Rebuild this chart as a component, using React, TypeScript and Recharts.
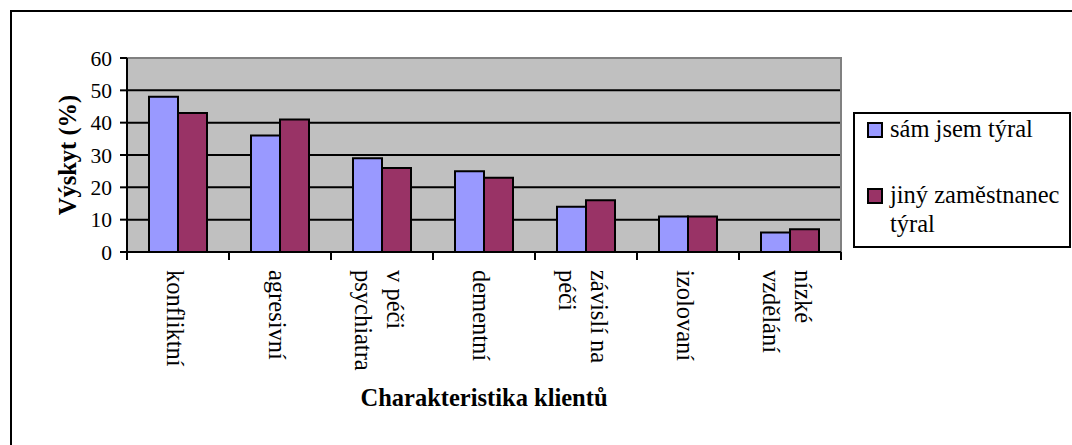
import { Bar, BarChart, CartesianGrid, Legend, ReferenceArea, XAxis, YAxis } from "recharts"

const serif = "'Liberation Serif', Tinos, 'Times New Roman', Times, 'DejaVu Serif', serif"

// category labels, "\n" marks the line breaks of the rotated labels
const categories = [
  "konfliktní",
  "agresivní",
  "v péči\npsychiatra",
  "dementní",
  "závislí na\npéči",
  "izolovaní",
  "nízké\nvzdělání",
]
const samJsemTyral = [48, 36, 29, 25, 14, 11, 6]
const jinyZamestnanecTyral = [43, 41, 26, 23, 16, 11, 7]
const yTicks = [0, 10, 20, 30, 40, 50, 60]

const seriesNames = ["sám jsem týral", "jiný zaměstnanec týral"]
const seriesColors = ["#9999FF", "#993366"]

const data = categories.map((name, i) => ({
  name,
  sam: samJsemTyral[i],
  jiny: jinyZamestnanecTyral[i],
}))

const PLOT_WIDTH = 714
const HALF_BAND = PLOT_WIDTH / categories.length / 2

function CategoryTick(props: any) {
  const { x, y, payload, index } = props
  const lines = String(payload.value).split("\n")
  const left = x - HALF_BAND
  const right = x + HALF_BAND
  return (
    <g>
      <line x1={left} x2={left} y1={y} y2={y + 8} stroke="#000" strokeWidth={2} />
      {index === categories.length - 1 && (
        <line x1={right} x2={right} y1={y} y2={y + 8} stroke="#000" strokeWidth={2} />
      )}
      <g transform={`translate(${x - 3},${y + 18}) rotate(90)`}>
        {lines.map((line, i) => (
          <text
            key={i}
            x={0}
            y={(i - (lines.length - 1) / 2) * 32}
            textAnchor="start"
            dominantBaseline="central"
            style={{ fontSize: 24.5, fontFamily: serif }}
            fill="#000"
          >
            {line}
          </text>
        ))}
      </g>
    </g>
  )
}

function YTitle(props: any) {
  const { viewBox } = props
  const cx = viewBox.x + 67
  const cy = viewBox.y + viewBox.height / 2
  return (
    <text
      x={cx}
      y={cy}
      transform={`rotate(-90, ${cx}, ${cy})`}
      textAnchor="middle"
      dominantBaseline="central"
      style={{ fontSize: 24.5, fontWeight: "bold", fontFamily: serif }}
      fill="#000"
    >
      Výskyt (%)
    </text>
  )
}

function XTitle(props: any) {
  const { viewBox } = props
  return (
    <text
      x={viewBox.x + viewBox.width / 2}
      y={viewBox.y + 154}
      textAnchor="middle"
      style={{ fontSize: 24.5, fontWeight: "bold", fontFamily: serif }}
      fill="#000"
    >
      Charakteristika klientů
    </text>
  )
}

function LegendBox() {
  return (
    <div
      style={{
        width: 218,
        height: 136,
        boxSizing: "border-box",
        border: "2px solid #000",
        background: "#fff",
        fontFamily: serif,
        fontSize: 24.5,
        color: "#000",
      }}
    >
      {seriesNames.map((name, i) => (
        <div key={name} style={{ display: "flex", alignItems: "flex-start", marginTop: i === 0 ? 0 : 37 }}>
          <span
            style={{
              width: 16,
              height: 16,
              boxSizing: "border-box",
              border: "2px solid #000",
              background: seriesColors[i],
              marginTop: 8,
              marginLeft: 12,
              flexShrink: 0,
            }}
          />
          <span style={{ marginLeft: 7, lineHeight: "29px", width: 172 }}>{name}</span>
        </div>
      ))}
    </div>
  )
}

export default function App() {
  return (
    <div
      style={{
        position: "fixed",
        left: 0,
        top: 0,
        width: 1072,
        height: 445,
        overflow: "hidden",
        background: "#fff",
        fontFamily: serif,
      }}
    >
      <div
        style={{
          position: "absolute",
          left: 10,
          top: 10,
          width: 1080,
          height: 460,
          borderTop: "2px solid #000",
          borderLeft: "2px solid #000",
        }}
      />
      <div style={{ position: "absolute", left: 0, top: 0 }}>
        <BarChart
          width={1072}
          height={445}
          data={data}
          margin={{ top: 58, right: 231, bottom: 0, left: 0 }}
          barCategoryGap={22}
          barGap={0}
          style={{ fontFamily: serif }}
        >
          <CartesianGrid vertical={false} fill="#C0C0C0" stroke="#000" strokeWidth={2} />
          <ReferenceArea y1={0} y2={60} fill="none" stroke="#808080" strokeWidth={2} />
          <XAxis
            dataKey="name"
            height={193}
            axisLine={{ stroke: "#000", strokeWidth: 2 }}
            tickLine={false}
            tickSize={0}
            tickMargin={0}
            interval={0}
            tick={<CategoryTick />}
            label={<XTitle />}
          />
          <YAxis
            width={127}
            domain={[0, 60]}
            ticks={yTicks}
            interval={0}
            axisLine={{ stroke: "#000", strokeWidth: 2 }}
            tickLine={{ stroke: "#000", strokeWidth: 2 }}
            tickSize={7}
            tickMargin={8}
            tick={{ fill: "#000", fontSize: 21.5, style: { fontFamily: serif } }}
            label={<YTitle />}
          />
          <Legend
            layout="vertical"
            align="center"
            verticalAlign="middle"
            wrapperStyle={{ left: 853, top: 112, width: 218, height: 136 }}
            content={<LegendBox />}
          />
          <Bar
            dataKey="sam"
            name={seriesNames[0]}
            fill={seriesColors[0]}
            stroke="#000"
            strokeWidth={2}
            isAnimationActive={false}
          />
          <Bar
            dataKey="jiny"
            name={seriesNames[1]}
            fill={seriesColors[1]}
            stroke="#000"
            strokeWidth={2}
            isAnimationActive={false}
          />
        </BarChart>
      </div>
    </div>
  )
}
